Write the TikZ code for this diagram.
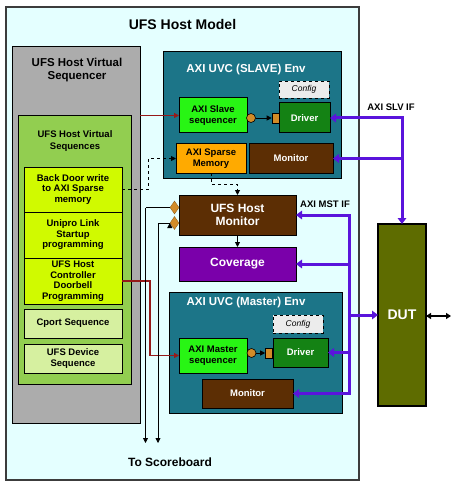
\documentclass[tikz,border=0pt]{standalone}
\usepackage{fontspec}
\setmainfont{Liberation Sans}
\usetikzlibrary{positioning,arrows.meta,shapes.geometric}

\definecolor{modelbg}{RGB}{228,255,255}
\definecolor{seqgray}{RGB}{172,172,172}
\definecolor{vseqgreen}{RGB}{146,206,80}
\definecolor{stepyellow}{RGB}{208,250,0}
\definecolor{palegreen}{RGB}{214,240,160}
\definecolor{envteal}{RGB}{28,117,136}
\definecolor{seqlime}{RGB}{40,245,20}
\definecolor{drvgreen}{RGB}{20,130,20}
\definecolor{cfggray}{RGB}{236,236,236}
\definecolor{memorange}{RGB}{255,170,0}
\definecolor{monbrown}{RGB}{92,46,4}
\definecolor{covpurple}{RGB}{122,0,170}
\definecolor{dutolive}{RGB}{94,108,0}
\definecolor{busviolet}{RGB}{90,20,220}
\definecolor{linkred}{RGB}{150,25,25}
\definecolor{taporange}{RGB}{210,140,40}

\begin{document}
\begin{tikzpicture}[x=1pt,y=-1pt,
	blk/.style={draw=black,line width=1pt,inner sep=1pt,outer sep=0pt,align=center,
		font=\bfseries\fontsize{9.5}{10.5}\selectfont},
	wblk/.style={blk,text=white},
	cfg/.style={draw=black,dashed,line width=0.8pt,fill=cfggray,inner sep=0pt,
		minimum width=50pt,font=\itshape\fontsize{8.5}{9}\selectfont},
	ttl/.style={font=\bfseries\fontsize{#1}{#1}\selectfont,align=center,inner sep=0pt},
	bus/.style={draw=busviolet,line width=3pt,-{Triangle[length=6pt,width=8.5pt]}},
	seqlink/.style={draw=linkred,line width=1.2pt,-{Triangle[length=5pt,width=5pt]}},
	dashlink/.style={draw=black,dashed,line width=0.9pt,-{Triangle[length=5pt,width=5pt]}},
	thin/.style={draw=black,line width=0.8pt,-{Triangle[length=5pt,width=5pt]}},
	port/.style={circle,draw=black,fill=taporange,line width=0.6pt,minimum size=9pt,inner sep=0pt},
	export/.style={draw=black,fill=taporange,line width=0.6pt,minimum width=7pt,minimum height=10pt,inner sep=0pt},
	tap/.style={diamond,aspect=0.7,draw=taporange!70!black,fill=taporange,line width=0.4pt,
		minimum width=9pt,minimum height=13pt,inner sep=0pt}]
	\useasboundingbox (0,0) rectangle (460,489);

	\node[draw={rgb,255:red,60;green,60;blue,60},line width=1.5pt,fill=modelbg,
		minimum width=353pt,minimum height=473pt] (model) at (182.5,243.5) {};
	\node[ttl=14] (modeltitle) at (182.5,24) {UFS Host Model};

	\node[blk,fill=seqgray,minimum width=128pt,minimum height=376pt] (vseq) at (76,235) {};
	\node[ttl=11.5] (vseqtitle) at (77,70) {UFS Host Virtual\\[1pt]Sequencer};
	\node[blk,fill=vseqgreen,minimum width=113pt,minimum height=268pt] (vseqs) at (74.5,250) {};
	\node[ttl=9.5] (vseqstitle) at (75,141) {UFS Host Virtual\\[3pt]Sequences};

	\node[blk,fill=stepyellow,minimum width=98pt,minimum height=45pt] (bd) at (73,189.5)
		{Back Door write\\to AXI Sparse\\memory};
	\node[blk,fill=stepyellow,minimum width=98pt,minimum height=46pt] (unipro) at (73,235)
		{Unipro Link\\Startup\\programming};
	\node[blk,fill=stepyellow,minimum width=98pt,minimum height=46pt] (door) at (73,281)
		{UFS Host\\Controller\\Doorbell\\Programming};
	\node[blk,fill=palegreen,minimum width=98pt,minimum height=29pt] (cport) at (73,323.5)
		{Cport Sequence};
	\node[blk,fill=palegreen,minimum width=98pt,minimum height=29pt] (ufsdev) at (73,358.5)
		{UFS Device\\Sequence};

	\node[blk,fill=envteal,minimum width=178pt,minimum height=126pt] (slvenv) at (252,115) {};
	\node[ttl=11.5,text=white] (slvtitle) at (246,70) {AXI UVC (SLAVE) Env};
	\node[blk,fill=seqlime,minimum width=68pt,minimum height=35pt] (slvseq) at (213,115.5)
		{AXI Slave\\sequencer};
	\node[wblk,fill=drvgreen,minimum width=51pt,minimum height=30pt] (slvdrv) at (304.5,118) {Driver};
	\node[cfg,minimum height=17pt] (slvcfg) at (304,89.5) {Config};
	\node[blk,fill=memorange,minimum width=70pt,minimum height=29pt] (spmem) at (211,158.5)
		{AXI Sparse\\Memory};
	\node[wblk,fill=monbrown,minimum width=84pt,minimum height=29pt] (slvmon) at (291,158.5) {Monitor};
	\node[port] (slvport) at (251,118) {};
	\node[export] (slvexp) at (275.5,118) {};

	\node[wblk,fill=monbrown,minimum width=117pt,minimum height=40pt,
		font=\bfseries\fontsize{12}{13.5}\selectfont] (hostmon) at (237.5,215) {UFS Host\\Monitor};
	\node[tap] (tap1) at (174.5,207.5) {};
	\node[tap] (tap2) at (174.5,223) {};
	\node[wblk,fill=covpurple,minimum width=117pt,minimum height=34pt,
		font=\bfseries\fontsize{12}{13.5}\selectfont] (cov) at (237.5,264) {Coverage};

	\node[blk,fill=envteal,minimum width=173pt,minimum height=121pt] (mstenv) at (255.5,352.5) {};
	\node[ttl=11.5,text=white] (msttitle) at (246,303) {AXI UVC (Master) Env};
	\node[cfg,minimum height=18pt] (mstcfg) at (298,324) {Config};
	\node[blk,fill=seqlime,minimum width=68pt,minimum height=35pt] (mstseq) at (213,355.5)
		{AXI Master\\sequencer};
	\node[wblk,fill=drvgreen,minimum width=55pt,minimum height=29pt] (mstdrv) at (300.5,352.5) {Driver};
	\node[wblk,fill=monbrown,minimum width=91pt,minimum height=29pt] (mstmon) at (247.5,393.5) {Monitor};
	\node[port] (mstport) at (251.5,353) {};
	\node[export] (mstexp) at (269,353) {};

	\node[blk,fill=dutolive,line width=1.5pt,text=white,minimum width=48pt,minimum height=182pt,
		font=\bfseries\fontsize{14}{14}\selectfont] (dut) at (402,315) {DUT};

	\node[ttl=9.5] (slvlbl) at (391,107) {AXI SLV IF};
	\node[ttl=9.5] (mstlbl) at (325,204) {AXI MST IF};
	\node[ttl=12] (sblbl) at (170,462) {To Scoreboard};

	\coordinate (slvif) at (402,118);
	\coordinate (mstif) at (349,215);
	\coordinate (sb1) at (145.5,443);
	\coordinate (sb2) at (158,443);
	\coordinate (ext) at (451,316);

	\draw[seqlink] (vseq.east |- slvseq.west) -- (slvseq.west);
	\draw[seqlink] (door.east) -- ++(28,0) |- (mstseq.west);
	\draw[dashlink] (bd.east) -- ++(26,0) |- (spmem.west);
	\draw[dashlink] (spmem.south) -- ++(0,11) -| (hostmon.north);

	\path[thin]
	(hostmon) edge (cov)
	(slvport) edge (slvexp)
	(mstport) edge (mstexp)
	(tap1.west) edge[-] (tap1.west -| sb1)
	(tap2.west) edge[-] (tap2.west -| sb2);
	\draw[thin] (tap1.west -| sb1) -- (sb1);
	\draw[thin] (tap2.west -| sb2) -- (sb2);

	\draw[bus] (slvif |- slvmon.east) -- (slvif) -- (slvdrv.east);
	\draw[bus] (slvif |- slvmon.east) -- (dut.north);
	\draw[bus] (slvif |- slvmon.east) -- (slvmon.east);
	\draw[bus] (mstif |- cov.east) -- (mstif) -- (hostmon.east);
	\draw[bus] (mstif) -- (mstif |- mstmon.east) -- (mstmon.east);
	\draw[bus] (mstif |- cov.east) -- (cov.east);
	\draw[bus] (mstif |- dut.west) -- (dut.west);
	\draw[bus] (mstif |- mstdrv.east) -- (mstdrv.east);
	\draw[draw=black,line width=1.2pt,{Triangle[length=5pt,width=6pt]}-{Triangle[length=5pt,width=6pt]}]
		(dut.east |- ext) -- (ext);
\end{tikzpicture}
\end{document}
